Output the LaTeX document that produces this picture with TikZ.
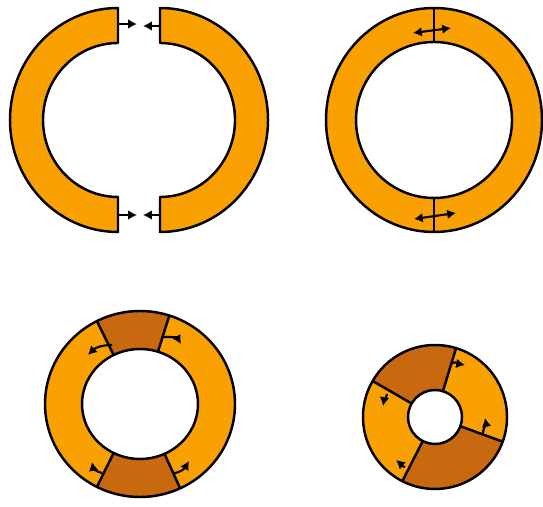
\documentclass[tikz,border=0pt]{standalone}
\usetikzlibrary{arrows.meta}
\definecolor{ringorange}{HTML}{F9A003}
\definecolor{ringbrown}{HTML}{C8680F}
\tikzset{
  piece/.style={fill=ringorange,draw=black,line width=1.4pt,line join=round},
  seam/.style={black,line width=1.4pt},
  push/.style={-{Latex[length=5pt,width=5.5pt]},line width=1.2pt},
  pushboth/.style={{Latex[length=5pt,width=5.5pt]}-{Latex[length=5pt,width=5.5pt]},line width=1.2pt},
}
\begin{document}
\begin{tikzpicture}[x=0.02cm,y=0.02cm]
\useasboundingbox (0,0) rectangle (543,506);
% split ring, two halves pulled apart
\draw[piece] (118,498) arc[start angle=90,end angle=270,x radius=108,y radius=112] -- (118,309) arc[start angle=270,end angle=90,x radius=75,y radius=77] -- cycle;
\draw[piece] (160,498) arc[start angle=90,end angle=-90,x radius=108,y radius=112] -- (160,309) arc[start angle=-90,end angle=90,x radius=75,y radius=77] -- cycle;
\draw[push] (118,482) -- (137,482);
\draw[push] (160,480) -- (143,480);
\draw[push] (118,291) -- (137,291);
\draw[push] (160,291) -- (143,291);
% closed ring with two seams
\draw[piece,even odd rule] (434,386) ellipse[x radius=108,y radius=112] (434,386) ellipse[x radius=78,y radius=78];
\draw[seam] (434,498) -- (434,464);
\draw[seam] (434,274) -- (434,308);
\draw[pushboth] (413,473) -- (451,478);
\draw[pushboth] (414,287) -- (456,293);
% ring with two dark segments
\begin{scope}[shift={(140,102)}]
\fill[ringorange,even odd rule] (0,0) ellipse[x radius=95,y radius=93] (0,0) ellipse[x radius=58,y radius=55];
\foreach \a/\b in {72/117,-117/-65}
  \fill[ringbrown] (\a:95 and 93) arc[start angle=\a,end angle=\b,x radius=95,y radius=93] -- (\b:58 and 55) arc[start angle=\b,end angle=\a,x radius=58,y radius=55] -- cycle;
\foreach \a in {72,117,-117,-65}
  \draw[seam] (\a:95 and 93) -- (\a:58 and 55);
\draw[seam] (0,0) ellipse[x radius=95,y radius=93] (0,0) ellipse[x radius=58,y radius=55];
\end{scope}
\draw[push] (112,161) to[out=180,in=45] (88,151);
\draw[push] (162,169) to[out=0,in=120] (181,162);
\draw[push] (102,33) to[out=170,in=-80] (92,44);
\draw[push] (173,33) to[out=0,in=-120] (189,45);
% small ring, four segments
\begin{scope}[shift={(435,89)}]
\fill[ringorange,even odd rule] (0,0) circle[radius=72] (0,0) circle[radius=27];
\foreach \a/\b in {73/150,243/340}
  \fill[ringbrown] (\a:72) arc[start angle=\a,end angle=\b,radius=72] -- (\b:27) arc[start angle=\b,end angle=\a,radius=27] -- cycle;
\foreach \a in {73,150,243,340}
  \draw[seam] (\a:72) -- (\a:27);
\draw[seam] (0,0) circle[radius=72] (0,0) circle[radius=27];
\end{scope}
\draw[push] (452,143) to[out=20,in=170] (465,141);
\draw[push] (387,112) to[out=-100,in=80] (383,100);
\draw[push] (483,71) to[out=95,in=-80] (485,88);
\draw[push] (405,39) to[out=170,in=-40] (396,46);
\end{tikzpicture}
\end{document}
